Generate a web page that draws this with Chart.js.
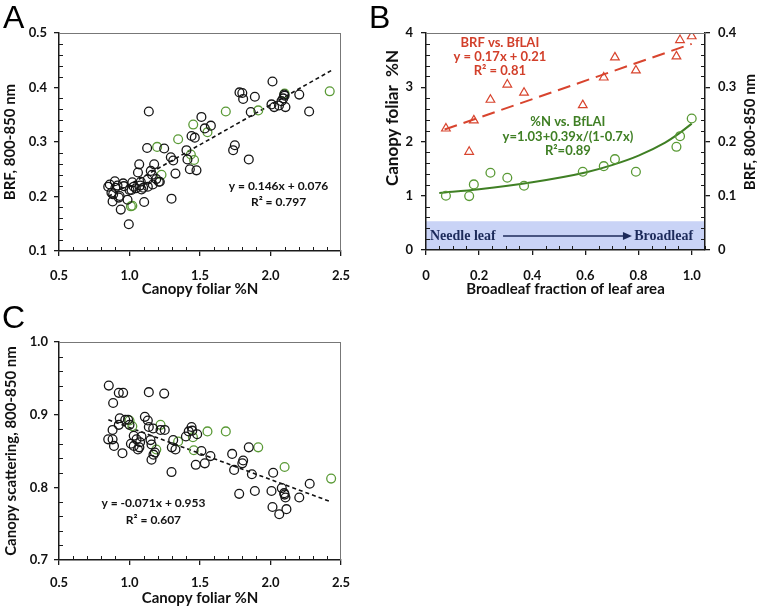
<!DOCTYPE html>
<html>
<head>
<meta charset="utf-8">
<script src="https://cdn.jsdelivr.net/npm/chart.js@4.4.0/dist/chart.umd.min.js"></script>
<style>
  body { margin: 0; background: #fff; }
  #wrap { position: relative; width: 757px; height: 609px; overflow: hidden; background: #fff; }
  canvas { position: absolute; }
  .tag { position: absolute; font-family: "Liberation Sans", Arial, sans-serif; font-size: 32px; line-height: 1; color: #000; }
</style>
</head>
<body>
<div id="wrap">
  <canvas id="chartA" width="380" height="300" style="left:0;top:0"></canvas>
  <canvas id="chartB" width="377" height="300" style="left:380px;top:0"></canvas>
  <canvas id="chartC" width="380" height="309" style="left:0;top:300px"></canvas>
  <div class="tag" style="left:3px;top:1px">A</div>
  <div class="tag" style="left:369px;top:1px">B</div>
  <div class="tag" style="left:2px;top:301px">C</div>
</div>
<script>
// ---- panel A / C : canopy %N (x) vs BRF and scattering ----
const nA_black = [0.849,0.86,0.872,0.88,0.884,0.896,0.9,0.915,0.924,0.93,0.938,0.955,0.96,0.986,0.995,1.0,1.014,1.02,1.03,1.045,1.06,1.069,1.075,1.08,1.085,1.097,1.104,1.125,1.137,1.13,1.128,1.151,1.16,1.165,1.175,1.19,1.208,1.215,1.246,1.293,1.298,1.31,1.326,1.404,1.411,1.428,1.44,1.463,1.475,1.51,1.534,1.577,1.735,1.747,1.78,1.8,1.806,1.846,1.86,1.889,2.007,2.014,2.026,2.06,2.078,2.09,2.097,2.1,2.106,2.204,2.274];
const brfA_black = [0.218,0.222,0.207,0.191,0.204,0.228,0.216,0.22,0.198,0.201,0.176,0.224,0.219,0.194,0.149,0.212,0.212,0.226,0.218,0.215,0.244,0.259,0.22,0.227,0.213,0.216,0.19,0.289,0.356,0.218,0.231,0.247,0.24,0.222,0.259,0.232,0.227,0.227,0.288,0.272,0.196,0.266,0.242,0.285,0.268,0.25,0.311,0.308,0.248,0.346,0.325,0.33,0.285,0.294,0.391,0.39,0.379,0.268,0.355,0.383,0.369,0.411,0.364,0.367,0.375,0.38,0.387,0.385,0.364,0.387,0.356];
const nA_green = [1.01,1.02,1.196,1.227,1.345,1.435,1.452,1.458,1.553,1.683,1.913,2.1,2.42];
const brfA_green = [0.182,0.183,0.291,0.24,0.305,0.277,0.332,0.267,0.318,0.356,0.358,0.389,0.393];
const fitA_x = [0.85, 2.43];
const fitA_y = [0.2, 0.431];

const nC_black = [0.853,0.924,0.955,0.884,0.931,0.97,0.99,0.924,0.88,0.849,0.88,0.89,0.95,1.0,1.01,1.03,1.03,1.05,1.06,1.07,1.075,1.085,1.109,1.13,1.137,1.149,1.156,1.168,1.156,1.17,1.18,1.137,1.246,1.22,1.25,1.298,1.31,1.30,1.326,1.40,1.42,1.44,1.445,1.48,1.47,1.51,1.534,1.574,1.728,1.742,1.778,1.80,1.806,1.846,1.868,1.889,2.007,2.019,2.014,2.062,2.08,2.097,2.1,2.106,2.113,2.204,2.278];
const scatC_black = [0.94,0.93,0.93,0.916,0.895,0.893,0.893,0.886,0.879,0.866,0.866,0.857,0.847,0.886,0.86,0.871,0.857,0.866,0.852,0.855,0.862,0.87,0.897,0.892,0.883,0.865,0.859,0.881,0.838,0.845,0.848,0.931,0.929,0.879,0.879,0.821,0.865,0.855,0.852,0.87,0.877,0.883,0.878,0.873,0.831,0.85,0.833,0.843,0.846,0.824,0.791,0.833,0.837,0.855,0.818,0.795,0.795,0.82,0.773,0.763,0.799,0.792,0.79,0.786,0.77,0.786,0.805];
const nC_green = [1.0,1.02,1.19,1.22,1.345,1.45,1.456,1.553,1.683,1.913,2.1,2.43];
const scatC_green = [0.892,0.884,0.852,0.886,0.863,0.869,0.851,0.877,0.877,0.855,0.828,0.812];
const fitC_x = [0.85, 2.43];
const fitC_y = [0.893, 0.78];

// ---- panel B : broadleaf fraction ----
const bfFrac = [0.075,0.1625,0.18,0.2425,0.306,0.369,0.59,0.669,0.711,0.79,0.9425,0.956,1.0];
const brfB = [0.224,0.181,0.239,0.277,0.305,0.29,0.267,0.318,0.355,0.331,0.357,0.387,0.394];
const nB = [1.0,0.994,1.209,1.423,1.331,1.184,1.442,1.546,1.675,1.442,1.902,2.098,2.423];
const fitBrf_x = [0.07, 1.0];
const fitBrf_y = [0.222, 0.38];
const fitN_x = [0.05,0.2,0.4,0.6,0.7,0.8,0.9,0.95,1.0];
const fitN_y = [1.05,1.12,1.25,1.43,1.565,1.74,1.98,2.14,2.33];

const FONT = 'Lato, "Open Sans", sans-serif';
const INK = '#111';
const GREEN = '#5a9a36';
const RED = '#d8442e';

function pts(xs, ys) { return xs.map((x, i) => ({x: x, y: ys[i]})); }

// fix the axis box so every panel's plot area lands where it should
function fixBox(size) {
  return function(scale) {
    if (scale.isHorizontal()) scale.height = size; else scale.width = size;
    scale.paddingLeft = scale.paddingRight = scale.paddingTop = scale.paddingBottom = 0;
  };
}

function linAxis(o) {
  return {
    type: 'linear',
    position: o.position,
    min: o.min, max: o.max,
    afterFit: fixBox(o.box),
    border: {color: '#1a1a1a', width: 1.5},
    grid: {drawOnChartArea: false, tickLength: 5, color: '#1a1a1a', lineWidth: 1.3},
    ticks: {stepSize: o.step, includeBounds: false, autoSkip: false, maxRotation: 0,
            padding: o.pad, color: INK, font: {family: FONT, size: 13, weight: 'bold'}},
    title: {display: !!o.title, text: o.title, color: INK,
            font: {family: FONT, size: o.titleSize || 15, weight: 'bold'},
            padding: o.titlePad || {top: 0, bottom: 0}}
  };
}

// frame, minor ticks, shaded band, annotations
const decor = {
  id: 'decor',
  beforeDraw(chart, args, opts) {
    const {ctx, chartArea: a} = chart;
    if (opts.band) {
      const s = chart.scales[opts.band.axis];
      const t = s.getPixelForValue(opts.band.to), b = s.getPixelForValue(opts.band.from);
      ctx.save();
      ctx.fillStyle = opts.band.color;
      ctx.fillRect(a.left, t, a.right - a.left, b - t);
      ctx.restore();
    }
  },
  afterDraw(chart, args, opts) {
    const {ctx, chartArea: a} = chart;
    ctx.save();
    ctx.strokeStyle = '#777';
    ctx.lineWidth = 1;
    ctx.beginPath();
    ctx.moveTo(a.left, a.top + 0.5); ctx.lineTo(a.right, a.top + 0.5);
    if (opts.frameRight) { ctx.moveTo(a.right - 0.5, a.top); ctx.lineTo(a.right - 0.5, a.bottom); }
    ctx.stroke();

    // inward minor ticks
    ctx.strokeStyle = '#1a1a1a';
    ctx.lineWidth = 1;
    Object.entries(opts.minor || {}).forEach(([id, step]) => {
      const s = chart.scales[id];
      const n = Math.round((s.max - s.min) / step);
      ctx.beginPath();
      for (let i = 0; i <= n; i++) {
        const v = s.min + i * step;
        if (s.ticks.some(t => Math.abs(t.value - v) < step / 10)) continue;
        const p = Math.round(s.getPixelForValue(v)) + 0.5;
        if (s.isHorizontal()) { ctx.moveTo(p, s.top); ctx.lineTo(p, s.top - 4); }
        else if (s.position === 'left') { ctx.moveTo(s.right, p); ctx.lineTo(s.right + 4, p); }
        else { ctx.moveTo(s.left, p); ctx.lineTo(s.left - 4, p); }
      }
      ctx.stroke();
    });

    (opts.texts || []).forEach(t => {
      const xs = chart.scales[t.xAxis || 'x'], ys = chart.scales[t.yAxis || 'y'];
      ctx.font = t.font || ('bold 12px ' + FONT);
      ctx.fillStyle = t.color || INK;
      ctx.textAlign = t.align || 'center';
      ctx.textBaseline = 'middle';
      ctx.fillText(t.text, xs.getPixelForValue(t.x), ys.getPixelForValue(t.y));
    });

    if (opts.arrow) {
      const r = opts.arrow, xs = chart.scales.x, ys = chart.scales[r.axis];
      const x0 = xs.getPixelForValue(r.from), x1 = xs.getPixelForValue(r.to), y = ys.getPixelForValue(r.y);
      ctx.strokeStyle = r.color; ctx.fillStyle = r.color; ctx.lineWidth = 1.5;
      ctx.beginPath(); ctx.moveTo(x0, y); ctx.lineTo(x1 - 6, y); ctx.stroke();
      ctx.beginPath(); ctx.moveTo(x1, y); ctx.lineTo(x1 - 9, y - 4); ctx.lineTo(x1 - 9, y + 4); ctx.closePath(); ctx.fill();
    }

    // vertical side titles that read bottom-to-top
    (opts.sideTitles || []).forEach(st => {
      ctx.save();
      ctx.translate(st.x, st.y);
      ctx.rotate(-Math.PI / 2);
      ctx.font = 'bold ' + st.size + 'px ' + FONT;
      ctx.fillStyle = INK;
      ctx.textAlign = 'center';
      ctx.textBaseline = 'middle';
      ctx.fillText(st.text, 0, 0);
      ctx.restore();
    });
    ctx.restore();
  }
};

const base = {
  responsive: false,
  animation: false,
  devicePixelRatio: 1,
  events: [],
  plugins: {legend: {display: false}, tooltip: {enabled: false}}
};

function circles(data, color) {
  return {data: data, borderColor: color, backgroundColor: 'rgba(0,0,0,0)', borderWidth: 1.3, pointRadius: 4.4, pointStyle: 'circle'};
}
function dashed(data, color, dash, width, axis) {
  return {data: data, yAxisID: axis || 'y', showLine: true, borderColor: color, borderWidth: width, borderDash: dash, pointRadius: 0, fill: false};
}

// panel A
new Chart(document.getElementById('chartA'), {
  type: 'scatter',
  data: {datasets: [
    circles(pts(nA_black, brfA_black), '#151515'),
    circles(pts(nA_green, brfA_green), GREEN),
    dashed(pts(fitA_x, fitA_y), '#111', [4, 3], 1.6)
  ]},
  options: Object.assign({}, base, {
    layout: {padding: {left: 0, top: 33, right: 39, bottom: 0}},
    scales: {
      x: linAxis({position: 'bottom', min: 0.5, max: 2.5, step: 0.5, box: 49, pad: 12, title: 'Canopy foliar %N', titlePad: {top: 0, bottom: 2}}),
      y: linAxis({position: 'left', min: 0.1, max: 0.5, step: 0.1, box: 59, pad: 7, title: 'BRF, 800-850 nm', titlePad: {top: 1, bottom: 0}})
    },
    plugins: Object.assign({}, base.plugins, {decor: {
      frameRight: true,
      minor: {x: 0.1, y: 0.02},
      texts: [
        {x: 2.057, y: 0.219, text: 'y = 0.146x + 0.076'},
        {x: 2.057, y: 0.19, text: 'R² = 0.797'}
      ]
    }})
  }),
  plugins: [decor]
});

// panel B
new Chart(document.getElementById('chartB'), {
  type: 'scatter',
  data: {datasets: [
    {data: pts(bfFrac, brfB), yAxisID: 'y1', borderColor: RED, backgroundColor: 'rgba(0,0,0,0)', borderWidth: 1.2, pointRadius: 5, pointStyle: 'triangle'},
    dashed(pts(fitBrf_x, fitBrf_y), RED, [13, 7], 2, 'y1'),
    circles(pts(bfFrac, nB), GREEN),
    {data: pts(fitN_x, fitN_y), yAxisID: 'y', showLine: true, borderColor: '#3f7f24', borderWidth: 2, pointRadius: 0, cubicInterpolationMode: 'monotone', fill: false}
  ]},
  options: Object.assign({}, base, {
    layout: {padding: {left: 0, top: 33, right: 0, bottom: 0}},
    scales: {
      x: linAxis({position: 'bottom', min: 0, max: 1.05, step: 0.2, box: 50, pad: 13, title: 'Broadleaf fraction of leaf area', titlePad: {top: 0, bottom: 2}}),
      y: linAxis({position: 'left', min: 0, max: 4, step: 1, box: 46, pad: 8}),
      y1: linAxis({position: 'right', min: 0, max: 0.4, step: 0.1, box: 52, pad: 8})
    },
    plugins: Object.assign({}, base.plugins, {decor: {
      frameRight: false,
      minor: {x: 0.05, y: 0.2, y1: 0.02},
      band: {axis: 'y', from: 0, to: 0.53, color: '#c9d3f6'},
      arrow: {axis: 'y', from: 0.29, to: 0.775, y: 0.26, color: '#1c2a5a'},
      sideTitles: [
        {text: 'Canopy foliar  %N', x: 13, y: 118, size: 17},
        {text: 'BRF, 800-850 nm', x: 370, y: 132, size: 15}
      ],
      texts: [
        {x: 0.278, y: 3.815, text: 'BRF vs. BfLAI', color: '#d23f2a', font: 'bold 13px ' + FONT},
        {x: 0.278, y: 3.57, text: 'y = 0.17x + 0.21', color: '#d23f2a', font: 'bold 13px ' + FONT},
        {x: 0.278, y: 3.3, text: 'R² = 0.81', color: '#d23f2a', font: 'bold 13px ' + FONT},
        {x: 0.534, y: 2.36, text: '%N vs. BfLAI', color: '#3f7f24', font: 'bold 13px ' + FONT},
        {x: 0.534, y: 2.08, text: 'y=1.03+0.39x/(1-0.7x)', color: '#3f7f24', font: 'bold 13px ' + FONT},
        {x: 0.534, y: 1.825, text: 'R²=0.89', color: '#3f7f24', font: 'bold 13px ' + FONT},
        {x: 0.015, y: 0.26, text: 'Needle leaf', align: 'left', color: '#1c2a5a', font: 'bold 14px "Liberation Serif", serif'},
        {x: 1.005, y: 0.26, text: 'Broadleaf', align: 'right', color: '#1c2a5a', font: 'bold 14px "Liberation Serif", serif'}
      ]
    }})
  }),
  plugins: [decor]
});

// panel C
new Chart(document.getElementById('chartC'), {
  type: 'scatter',
  data: {datasets: [
    circles(pts(nC_black, scatC_black), '#151515'),
    circles(pts(nC_green, scatC_green), GREEN),
    dashed(pts(fitC_x, fitC_y), '#111', [4, 3], 1.6)
  ]},
  options: Object.assign({}, base, {
    layout: {padding: {left: 0, top: 42, right: 39, bottom: 0}},
    scales: {
      x: linAxis({position: 'bottom', min: 0.5, max: 2.5, step: 0.5, box: 49, pad: 10, title: 'Canopy foliar %N', titlePad: {top: 0, bottom: 2}}),
      y: linAxis({position: 'left', min: 0.7, max: 1, step: 0.1, box: 59, pad: 6, title: 'Canopy scattering, 800-850 nm', titlePad: {top: 2, bottom: 0}})
    },
    plugins: Object.assign({}, base.plugins, {decor: {
      frameRight: true,
      minor: {x: 0.1, y: 0.02},
      texts: [
        {x: 1.17, y: 0.778, text: 'y = -0.071x + 0.953'},
        {x: 1.17, y: 0.755, text: 'R² = 0.607'}
      ]
    }})
  }),
  plugins: [decor]
});
</script>
</body>
</html>
